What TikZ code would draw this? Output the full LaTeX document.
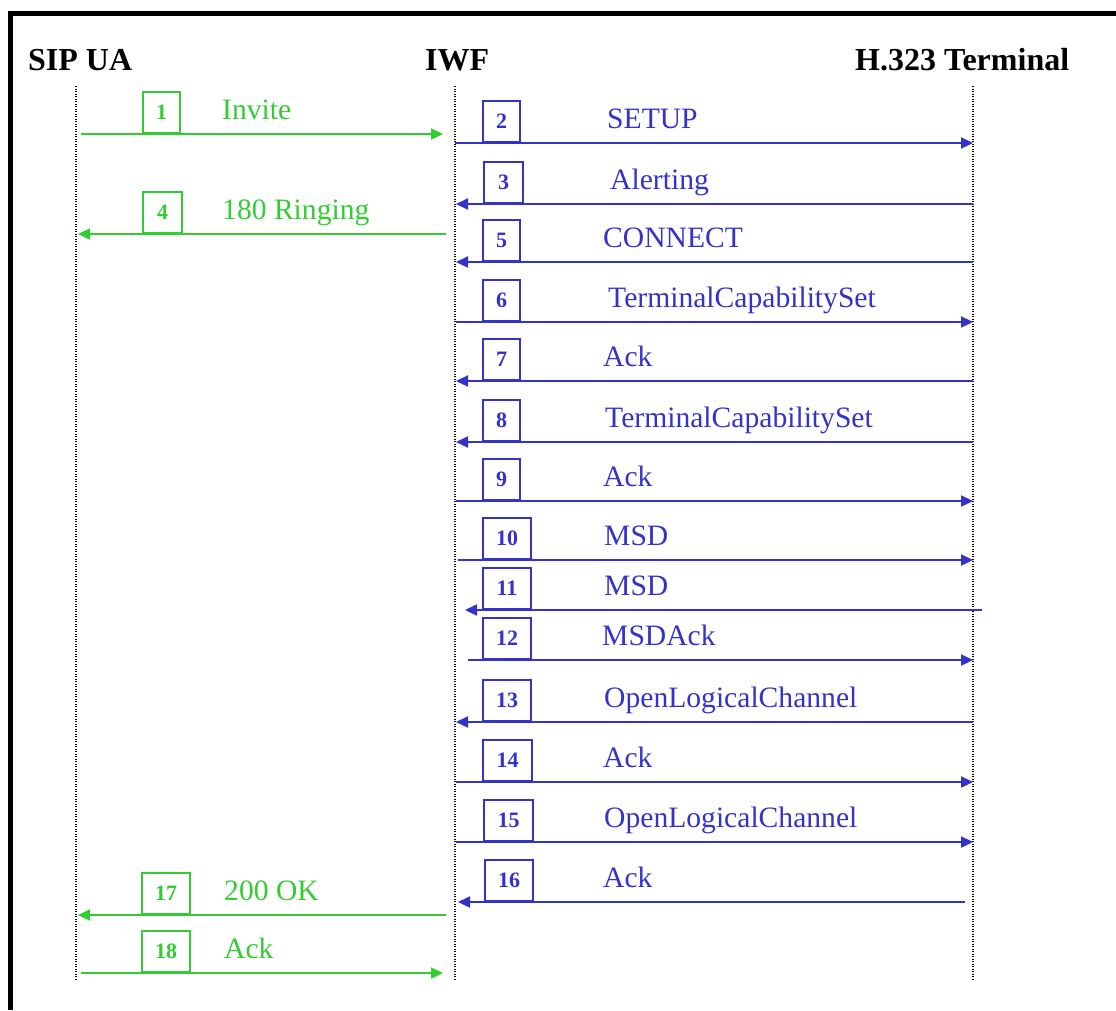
\documentclass[tikz,border=0pt]{standalone}
\usepackage{fontspec}
\setmainfont{Liberation Serif}
\usetikzlibrary{arrows.meta}
\definecolor{sipgreen}{RGB}{51,204,51}
\definecolor{h323blue}{RGB}{51,51,204}
\tikzset{
  title/.style={anchor=base west,inner sep=0pt,font=\fontsize{32}{34}\selectfont\bfseries,text=black},
  lifeline/.style={draw=black,line width=2pt,dash pattern=on 1.3pt off 1.2pt},
  msg/.style={line width=2.3pt,-{Triangle[length=12pt,width=11pt]}},
  numbox/.style={draw,line width=2pt,anchor=south west,inner sep=0pt,minimum height=41pt,font=\fontsize{22}{23}\selectfont\bfseries},
  msglabel/.style={anchor=base west,inner sep=0pt,font=\fontsize{29.6}{31}\selectfont}
}
\begin{document}
\begin{tikzpicture}[x=1pt,y=-1pt]
\useasboundingbox (0,0) rectangle (1116,1010);
% frame (top and left edges)
\fill[black] (8,11) rectangle (1116,16);
\fill[black] (8,11) rectangle (13,1010);
% titles
\node[title] (tsip) at (28,70) {SIP UA};
\node[title] (tiwf) at (425,70) {IWF};
\node[title] (th323) at (855,70) {H.323 Terminal};
% lifelines
\coordinate (sipTop) at (76,86);   \coordinate (sipBot) at (76,980);
\coordinate (iwfTop) at (455,86);  \coordinate (iwfBot) at (455,980);
\coordinate (hTop) at (973,86);    \coordinate (hBot) at (973,980);
\draw[lifeline] (sipTop) -- (sipBot);
\draw[lifeline] (iwfTop) -- (iwfBot);
\draw[lifeline] (hTop) -- (hBot);
% messages: number / start x / end x / line y / colour / box x / box width / label x / label text
\foreach \n/\xs/\xe/\y/\c/\bx/\bw/\lx/\lt in {
  1/81/443/134/sipgreen/142/37/222/Invite,
  4/446/78/234/sipgreen/142/39/222/180 Ringing,
  17/446/78/915/sipgreen/141/48/224/200 OK,
  18/81/443/973/sipgreen/141/48/224/Ack,
  2/455/973/143/h323blue/482/37/607/SETUP,
  3/973/456/204/h323blue/483/39/610/Alerting,
  5/973/456/262/h323blue/482/37/603/CONNECT,
  6/456/973/322/h323blue/482/37/608/TerminalCapabilitySet,
  7/973/456/381/h323blue/482/37/603/Ack,
  8/973/456/442/h323blue/482/37/605/TerminalCapabilitySet,
  9/456/973/501/h323blue/482/37/603/Ack,
  10/458/973/560/h323blue/482/48/604/MSD,
  11/982/465/610/h323blue/482/48/604/MSD,
  12/468/973/660/h323blue/482/48/602/MSDAck,
  13/973/456/722/h323blue/482/48/604/OpenLogicalChannel,
  14/456/973/782/h323blue/482/49/603/Ack,
  15/456/973/842/h323blue/483/49/604/OpenLogicalChannel,
  16/965/458/902/h323blue/484/48/603/Ack}{
  \coordinate (s\n) at (\xs,\y);
  \coordinate (e\n) at (\xe,\y);
  \draw[msg,draw=\c,fill=\c] (s\n) -- (e\n);
  \node[numbox,draw=\c,text=\c,minimum width=\bw pt] (b\n) at (\bx,\y) {\n};
  \node[msglabel,text=\c] (l\n) at (\lx,\y-14.5) {\lt};
}
\end{tikzpicture}
\end{document}
